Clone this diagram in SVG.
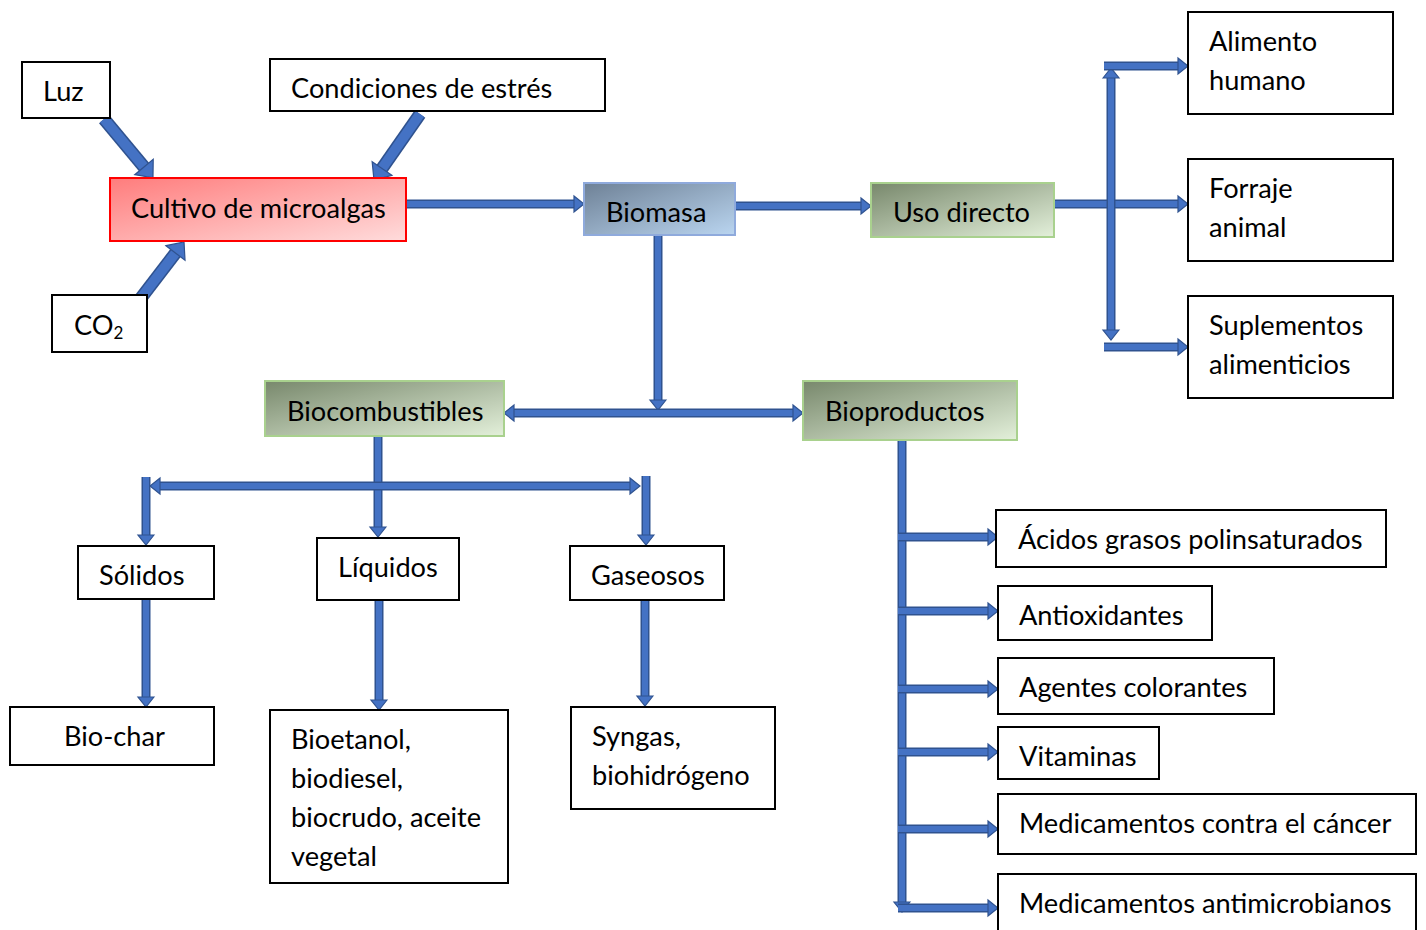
<svg xmlns="http://www.w3.org/2000/svg" width="1426" height="930" viewBox="0 0 1426 930">
<style>
.box{fill:#fff;stroke:#000;stroke-width:2}
.t{font-family:Lato,"Liberation Sans",sans-serif;font-size:27.2px;fill:#000}
.o{stroke:#2F528F;stroke-width:9;fill:none}
.i{stroke:#4472C4;stroke-width:6;fill:none}
.ob{stroke:#2F528F;stroke-width:13;fill:none}
.ib{stroke:#4472C4;stroke-width:10;fill:none}
</style>
<defs>
<linearGradient id="gRed" x1="0" y1="0" x2="1" y2="1"><stop offset="0" stop-color="#FF7C7C"/><stop offset="1" stop-color="#FFDCDC"/></linearGradient>
<linearGradient id="gBlue" x1="0" y1="0" x2="1" y2="1"><stop offset="0" stop-color="#6E8196"/><stop offset="1" stop-color="#BAD5F0"/></linearGradient>
<linearGradient id="gGreen" x1="0" y1="0" x2="1" y2="1"><stop offset="0" stop-color="#78886C"/><stop offset="1" stop-color="#E3F0DA"/></linearGradient>
<marker id="ah" markerUnits="userSpaceOnUse" markerWidth="16" markerHeight="20" viewBox="-2 -10 16 20" refX="0" refY="0" orient="auto-start-reverse" overflow="visible"><path d="M0,-8 L10,0 L0,8 Z" fill="#4472C4" stroke="#2F528F" stroke-width="1.2"/></marker>
<marker id="ahb" markerUnits="userSpaceOnUse" markerWidth="28" markerHeight="30" viewBox="-2 -14 28 28" refX="0" refY="0" orient="auto" overflow="visible"><path d="M0,-12 L14,0 L0,12 Z" fill="#4472C4" stroke="#2F528F" stroke-width="1.2"/></marker>
</defs>

<g id="connectors">
<g id="c-luz"><line class="ob" x1="104" y1="119" x2="144" y2="167"/><line class="ib" x1="104" y1="119" x2="144" y2="167" marker-end="url(#ahb)"/></g>
<g id="c-cond"><line class="ob" x1="420" y1="114" x2="382" y2="168.5"/><line class="ib" x1="420" y1="114" x2="382" y2="168.5" marker-end="url(#ahb)"/></g>
<g id="c-co2"><line class="ob" x1="141" y1="298" x2="175.5" y2="253"/><line class="ib" x1="141" y1="298" x2="175.5" y2="253" marker-end="url(#ahb)"/></g>

<g id="c-cult-bio"><line class="o" x1="406" y1="204" x2="574" y2="204"/><line class="i" x1="406" y1="204" x2="574" y2="204" marker-end="url(#ah)"/></g>
<g id="c-bio-uso"><line class="o" x1="735" y1="206" x2="861" y2="206"/><line class="i" x1="735" y1="206" x2="861" y2="206" marker-end="url(#ah)"/></g>
<g id="c-uso-forr"><line class="o" x1="1054" y1="204" x2="1178" y2="204"/><line class="i" x1="1054" y1="204" x2="1178" y2="204" marker-end="url(#ah)"/></g>
<g id="c-vert-uso"><line class="o" x1="1111" y1="78" x2="1111" y2="330"/><line class="i" x1="1111" y1="78" x2="1111" y2="330" marker-start="url(#ah)" marker-end="url(#ah)"/></g>
<g id="c-alim"><line class="o" x1="1104" y1="66" x2="1178" y2="66"/><line class="i" x1="1104" y1="66" x2="1178" y2="66" marker-end="url(#ah)"/></g>
<g id="c-supl"><line class="o" x1="1104" y1="347" x2="1178" y2="347"/><line class="i" x1="1104" y1="347" x2="1178" y2="347" marker-end="url(#ah)"/></g>

<g id="c-bio-down"><line class="o" x1="658" y1="235" x2="658" y2="400"/><line class="i" x1="658" y1="235" x2="658" y2="400" marker-end="url(#ah)"/></g>
<g id="c-split"><line class="o" x1="514" y1="413" x2="793" y2="413"/><line class="i" x1="514" y1="413" x2="793" y2="413" marker-start="url(#ah)" marker-end="url(#ah)"/></g>

<g id="c-biocomb-down"><line class="o" x1="378" y1="436" x2="378" y2="527"/><line class="i" x1="378" y1="436" x2="378" y2="527" marker-end="url(#ah)"/></g>
<g id="c-fuel-h"><line class="o" x1="160" y1="486" x2="630" y2="486"/><line class="i" x1="160" y1="486" x2="630" y2="486" marker-start="url(#ah)" marker-end="url(#ah)"/></g>
<g id="c-sol"><line class="o" x1="146" y1="477" x2="146" y2="535"/><line class="i" x1="146" y1="477" x2="146" y2="535" marker-end="url(#ah)"/></g>
<g id="c-gas"><line class="o" x1="646" y1="476" x2="646" y2="535"/><line class="i" x1="646" y1="476" x2="646" y2="535" marker-end="url(#ah)"/></g>
<g id="c-sol-char"><line class="o" x1="146" y1="599" x2="146" y2="697"/><line class="i" x1="146" y1="599" x2="146" y2="697" marker-end="url(#ah)"/></g>
<g id="c-liq-bioet"><line class="o" x1="379" y1="600" x2="379" y2="700"/><line class="i" x1="379" y1="600" x2="379" y2="700" marker-end="url(#ah)"/></g>
<g id="c-gas-syn"><line class="o" x1="645" y1="600" x2="645" y2="696"/><line class="i" x1="645" y1="600" x2="645" y2="696" marker-end="url(#ah)"/></g>

<g id="c-biop-down"><line class="o" x1="902" y1="440" x2="902" y2="902"/><line class="i" x1="902" y1="440" x2="902" y2="902" marker-end="url(#ah)"/></g>
<g id="c-acid"><line class="o" x1="898" y1="537" x2="988" y2="537"/><line class="i" x1="898" y1="537" x2="988" y2="537" marker-end="url(#ah)"/></g>
<g id="c-anti"><line class="o" x1="898" y1="611" x2="988" y2="611"/><line class="i" x1="898" y1="611" x2="988" y2="611" marker-end="url(#ah)"/></g>
<g id="c-agen"><line class="o" x1="898" y1="689" x2="988" y2="689"/><line class="i" x1="898" y1="689" x2="988" y2="689" marker-end="url(#ah)"/></g>
<g id="c-vit"><line class="o" x1="898" y1="752" x2="988" y2="752"/><line class="i" x1="898" y1="752" x2="988" y2="752" marker-end="url(#ah)"/></g>
<g id="c-canc"><line class="o" x1="898" y1="829" x2="988" y2="829"/><line class="i" x1="898" y1="829" x2="988" y2="829" marker-end="url(#ah)"/></g>
<g id="c-anti-m"><line class="o" x1="898" y1="908" x2="988" y2="908"/><line class="i" x1="898" y1="908" x2="988" y2="908" marker-end="url(#ah)"/></g>
</g>

<g id="luz"><rect class="box" x="22" y="62" width="88" height="56"/><text class="t" x="43" y="101">Luz</text></g>
<g id="condiciones"><rect class="box" x="270" y="59" width="335" height="52"/><text class="t" x="291" y="98">Condiciones de estrés</text></g>
<g id="cultivo"><rect x="110" y="178" width="296" height="63" fill="url(#gRed)" stroke="#FF0000" stroke-width="2"/><text class="t" x="131" y="218">Cultivo de microalgas</text></g>
<g id="co2"><rect class="box" x="52" y="295" width="95" height="57"/><text class="t" x="74" y="335">CO<tspan font-size="17" dy="4">2</tspan></text></g>
<g id="biomasa"><rect x="584" y="183" width="151" height="52" fill="url(#gBlue)" stroke="#8FAADC" stroke-width="2"/><text class="t" x="606" y="222">Biomasa</text></g>
<g id="uso"><rect x="871" y="183" width="183" height="54" fill="url(#gGreen)" stroke="#A9D18E" stroke-width="2"/><text class="t" x="893" y="222">Uso directo</text></g>
<g id="alimento"><rect class="box" x="1188" y="12" width="205" height="102"/><text class="t" x="1209" y="51">Alimento</text><text class="t" x="1209" y="90">humano</text></g>
<g id="forraje"><rect class="box" x="1188" y="159" width="205" height="102"/><text class="t" x="1209" y="198">Forraje</text><text class="t" x="1209" y="237">animal</text></g>
<g id="suplementos"><rect class="box" x="1188" y="296" width="205" height="102"/><text class="t" x="1209" y="335">Suplementos</text><text class="t" x="1209" y="374">alimenticios</text></g>
<g id="biocombustibles"><rect x="265" y="381" width="239" height="55" fill="url(#gGreen)" stroke="#A9D18E" stroke-width="2"/><text class="t" x="287" y="421">Biocombustibles</text></g>
<g id="bioproductos"><rect x="803" y="381" width="214" height="59" fill="url(#gGreen)" stroke="#A9D18E" stroke-width="2"/><text class="t" x="825" y="421">Bioproductos</text></g>
<g id="solidos"><rect class="box" x="78" y="546" width="136" height="53"/><text class="t" x="99" y="585">Sólidos</text></g>
<g id="liquidos"><rect class="box" x="317" y="538" width="142" height="62"/><text class="t" x="338" y="577">Líquidos</text></g>
<g id="gaseosos"><rect class="box" x="570" y="546" width="154" height="54"/><text class="t" x="591" y="585">Gaseosos</text></g>
<g id="biochar"><rect class="box" x="10" y="707" width="204" height="58"/><text class="t" x="64" y="746">Bio-char</text></g>
<g id="bioetanol"><rect class="box" x="270" y="710" width="238" height="173"/><text class="t" x="291" y="749">Bioetanol,</text><text class="t" x="291" y="788">biodiesel,</text><text class="t" x="291" y="827">biocrudo, aceite</text><text class="t" x="291" y="866">vegetal</text></g>
<g id="syngas"><rect class="box" x="571" y="707" width="204" height="102"/><text class="t" x="592" y="746">Syngas,</text><text class="t" x="592" y="785">biohidrógeno</text></g>
<g id="acidos"><rect class="box" x="996" y="510" width="390" height="57"/><text class="t" x="1018" y="549">Ácidos grasos polinsaturados</text></g>
<g id="antioxidantes"><rect class="box" x="998" y="586" width="214" height="54"/><text class="t" x="1019" y="625">Antioxidantes</text></g>
<g id="agentes"><rect class="box" x="998" y="658" width="276" height="56"/><text class="t" x="1019" y="697">Agentes colorantes</text></g>
<g id="vitaminas"><rect class="box" x="998" y="727" width="161" height="52"/><text class="t" x="1019" y="766">Vitaminas</text></g>
<g id="cancer"><rect class="box" x="998" y="794" width="418" height="60"/><text class="t" x="1019" y="833">Medicamentos contra el cáncer</text></g>
<g id="antimicrobianos"><rect class="box" x="998" y="874" width="418" height="62"/><text class="t" x="1019" y="913">Medicamentos antimicrobianos</text></g>
</svg>
